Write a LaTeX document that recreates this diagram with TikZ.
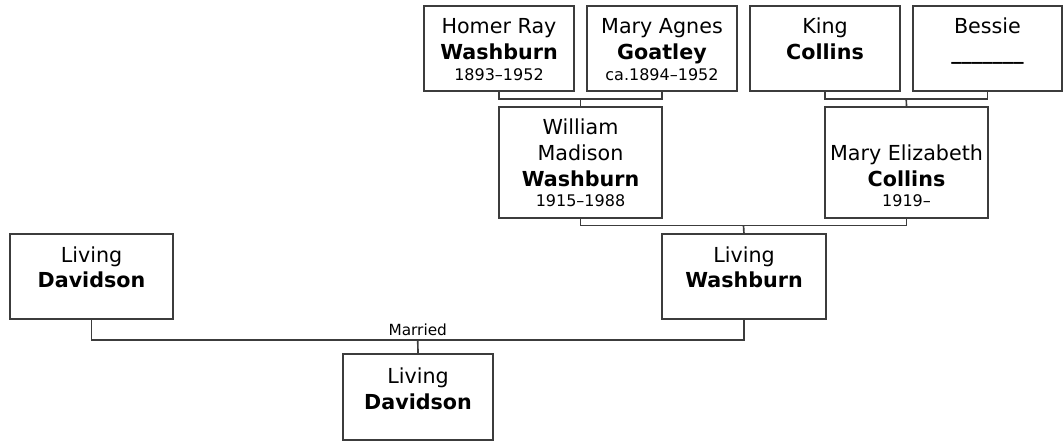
\documentclass[tikz,border=0pt]{standalone}
\usepackage{fontspec}
\setmainfont{DejaVu Sans}
\usetikzlibrary{calc}
\definecolor{linegray}{HTML}{3C3C3C}
\begin{document}
\begin{tikzpicture}[x=0.75pt,y=-0.75pt,
  pbox/.style 2 args={draw=linegray, line width=1.2pt, fill=white, rectangle,
    inner sep=0pt, outer sep=0pt, minimum width=#1*0.75pt, minimum height=#2*0.75pt},
  conn/.style={draw=linegray, line width=1.25pt},
  nm/.style={anchor=base, inner sep=0pt, font=\fontsize{15.5}{18}\selectfont},
  sn/.style={anchor=base, inner sep=0pt, font=\fontsize{15.5}{18}\selectfont\bfseries},
  dt/.style={anchor=base, inner sep=0pt, font=\fontsize{12}{14}\selectfont},
  lab/.style={anchor=base, inner sep=0pt, font=\fontsize{11.5}{13}\selectfont},
]
\useasboundingbox (0,0) rectangle (1063,441);

% boxes
\node[pbox={150}{85}] (hr) at (499,48.5) {};
\node[pbox={150}{85}] (ma) at (662,48.5) {};
\node[pbox={150}{85}] (kc) at (825,48.5) {};
\node[pbox={149}{85}] (be) at (987.5,48.5) {};
\node[pbox={163}{111}] (wm) at (580.5,162.5) {};
\node[pbox={163}{111}] (me) at (906.5,162.5) {};
\node[pbox={164}{85}] (lw) at (744,276.5) {};
\node[pbox={163}{85}] (ld) at (91.5,276.5) {};
\node[pbox={150}{86}] (cd) at (418,397) {};

% texts
\node[nm] (hr1) at ($(hr.north)+(0,28)$) {Homer Ray};
\node[sn] (hr2) at ($(hr.north)+(0,54)$) {Washburn};
\node[dt] (hr3) at ($(hr.north)+(0,75)$) {1893–1952};

\node[nm] (ma1) at ($(ma.north)+(0,28)$) {Mary Agnes};
\node[sn] (ma2) at ($(ma.north)+(0,54)$) {Goatley};
\node[dt] (ma3) at ($(ma.north)+(0,75)$) {ca.1894–1952};

\node[nm] (kc1) at ($(kc.north)+(0,28)$) {King};
\node[sn] (kc2) at ($(kc.north)+(0,54)$) {Collins};

\node[nm] (be1) at ($(be.north)+(0,28)$) {Bessie};
\node[sn] (be2) at ($(be.north)+(0,54)$) {\_\_\_\_\_\_\_};

\node[nm] (wm1) at ($(wm.north)+(0,28)$) {William};
\node[nm] (wm2) at ($(wm.north)+(0,54)$) {Madison};
\node[sn] (wm3) at ($(wm.north)+(0,80)$) {Washburn};
\node[dt] (wm4) at ($(wm.north)+(0,100)$) {1915–1988};

\node[nm] (me1) at ($(me.north)+(0,54)$) {Mary Elizabeth};
\node[sn] (me2) at ($(me.north)+(0,80)$) {Collins};
\node[dt] (me3) at ($(me.north)+(0,100)$) {1919–};

\node[nm] (lw1) at ($(lw.north)+(0,29)$) {Living};
\node[sn] (lw2) at ($(lw.north)+(0,54)$) {Washburn};

\node[nm] (ld1) at ($(ld.north)+(0,29)$) {Living};
\node[sn] (ld2) at ($(ld.north)+(0,54)$) {Davidson};

\node[nm] (cd1) at ($(cd.north)+(0,29)$) {Living};
\node[sn] (cd2) at ($(cd.north)+(0,55)$) {Davidson};

% connectors
\coordinate (j1) at ($(hr.south)!0.5!(ma.south)+(0,8)$);
\draw[conn] (hr.south) |- (j1) -| (ma.south);
\draw[conn] (j1) -- (wm.north);

\coordinate (j2) at ($(kc.south)!0.5!(be.south)+(0,8)$);
\draw[conn] (kc.south) |- (j2) -| (be.south);
\draw[conn] (j2) -- (me.north);

\coordinate (j3) at ($(wm.south)!0.5!(me.south)+(0,7.5)$);
\draw[conn] (wm.south) |- (j3) -| (me.south);
\draw[conn] (j3) -- (lw.north);

\coordinate (j4) at ($(ld.south)!0.5!(lw.south)+(0,21)$);
\draw[conn] (ld.south) |- (j4) -| (lw.south);
\draw[conn] (j4) -- (cd.north);
\node[lab] (mar) at ($(j4)+(0,-4.5)$) {Married};
\end{tikzpicture}
\end{document}
